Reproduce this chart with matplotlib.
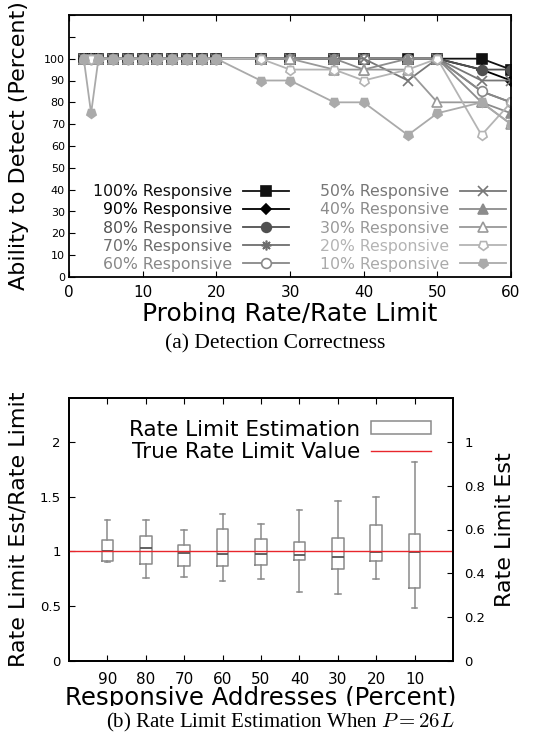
import matplotlib
matplotlib.use("Agg")
import matplotlib.pyplot as plt
from matplotlib.patches import Patch, Rectangle
from matplotlib.lines import Line2D

plt.rcParams["font.family"] = "DejaVu Sans"
plt.rcParams["mathtext.fontset"] = "cm"

# ---- data: detection correctness ----
rate = [2, 3, 4, 6, 8, 10, 12, 14, 16, 18, 20, 26, 30, 36, 40, 46, 50, 56, 60]
base = [100] * 11  # all series at 100 for rate <= 20 (except 10% at rate 3)
r100 = base + [100, 100, 100, 100, 100, 100, 100, 95]
r90 = base + [100, 100, 100, 100, 100, 100, 95, 90]
r80 = base + [100, 100, 100, 100, 100, 100, 95, 95]
r70 = base + [100, 100, 100, 100, 100, 100, 85, 80]
r60 = base + [100, 100, 100, 100, 100, 100, 85, 80]
r50 = base + [100, 100, 100, 100, 90, 100, 90, 90]
r40 = base + [100, 100, 100, 95, 100, 100, 80, 75]
r30 = base + [100, 100, 95, 95, 95, 80, 80, 70]
r20 = base + [100, 95, 95, 90, 95, 100, 65, 80]
r10 = [100, 75] + [100] * 9 + [90, 90, 80, 80, 65, 75, 80, 70]

series = [
    ("100% Responsive", r100, "#111111", "s", True),
    ("90% Responsive", r90, "#000000", "D", True),
    ("80% Responsive", r80, "#505050", "o", True),
    ("70% Responsive", r70, "#6e6e6e", (8, 2, 0), True),
    ("60% Responsive", r60, "#888888", "o", False),
    ("50% Responsive", r50, "#777777", "x", True),
    ("40% Responsive", r40, "#8c8c8c", "^", True),
    ("30% Responsive", r30, "#999999", "^", False),
    ("20% Responsive", r20, "#b4b4b4", (5, 0, 180), False),
    ("10% Responsive", r10, "#aaaaaa", (5, 0, 180), True),
]

# ---- data: rate limit estimation boxes ----
resp_pct = ["90", "80", "70", "60", "50", "40", "30", "20", "10"]
whis_lo = [0.90, 0.76, 0.77, 0.73, 0.745, 0.63, 0.615, 0.745, 0.485]
q1 = [0.915, 0.885, 0.865, 0.87, 0.88, 0.92, 0.835, 0.91, 0.665]
med = [1.005, 1.035, 0.985, 0.98, 0.975, 0.965, 0.95, 0.995, 0.995]
q3 = [1.105, 1.14, 1.055, 1.205, 1.11, 1.09, 1.12, 1.245, 1.155]
whis_hi = [1.29, 1.285, 1.20, 1.345, 1.25, 1.38, 1.46, 1.50, 1.815]
true_ratio = 1.0

fig = plt.figure(figsize=(5.33, 7.36), dpi=100)

# ================= (a) =================
ax = fig.add_axes([69 / 533, 1 - 277 / 736, 442 / 533, 262 / 736])
for label, vals, col, mk, filled in series:
    ms = 5 if mk == "D" else 7
    ax.plot(rate, vals, color=col, lw=1.3, marker=mk, ms=ms,
            mfc=col if filled else "white", mec=col, mew=1.2, label=label)

ax.set_xlim(0, 60)
ax.set_ylim(0, 120)
ax.set_xticks(range(0, 61, 10))
ax.set_yticks(range(0, 121, 10))
ax.set_yticklabels([str(v) if v <= 100 else "" for v in range(0, 121, 10)])
ax.tick_params(axis="x", direction="in", top=True, labelsize=11, length=4, pad=6)
ax.tick_params(axis="y", direction="in", labelsize=8, length=4, pad=3)
for s in ax.spines.values():
    s.set_linewidth(1.3)
ax.set_xlabel("Probing Rate/Rate Limit", fontsize=18, va="baseline")
ax.xaxis.set_label_coords(0.5, -0.168)
ax.set_ylabel("Ability to Detect (Percent)", fontsize=16, va="center")
ax.yaxis.set_label_coords(-0.113, 0.5)

leg = ax.legend(ncol=2, loc="lower right", bbox_to_anchor=(1.013, -0.022),
                frameon=False, markerfirst=False, fontsize=11.3,
                handlelength=2.9, handletextpad=0.7, columnspacing=2.0,
                labelspacing=0.2, borderpad=0.2)
for txt, (_, _, col, _, _) in zip(leg.get_texts(), series):
    txt.set_color(col)

# clip label bottom like the original figure
fig.patches.append(Rectangle((0, 1 - 333 / 736), 1, 10 / 736, transform=fig.transFigure,
                             facecolor="white", edgecolor="none", zorder=10))
fig.text(275 / 533, 1 - 344 / 736, "(a) Detection Correctness", family="Liberation Serif",
         fontsize=15.5, ha="center", va="center", zorder=11)

# ================= (b) =================
bx = fig.add_axes([69 / 533, 1 - 661 / 736, 384 / 533, 263 / 736])
pos = list(range(1, len(resp_pct) + 1))
stats = []
for i in range(len(resp_pct)):
    stats.append({"whislo": whis_lo[i], "q1": q1[i], "med": med[i],
                  "q3": q3[i], "whishi": whis_hi[i], "fliers": []})
bx.bxp(stats, positions=pos, widths=0.3, showfliers=False,
       boxprops=dict(color="#8a8a8a", lw=1.1),
       whiskerprops=dict(color="#8a8a8a", lw=1.1),
       capprops=dict(color="#8a8a8a", lw=1.1),
       medianprops=dict(color="#555555", lw=1.3))
bx.axhline(true_ratio, color="#e8262c", lw=1.0, zorder=3)

bx.set_xlim(0, 10)
bx.set_ylim(0, 2.4)
bx.set_xticks(pos)
bx.set_xticklabels(resp_pct)
bx.set_yticks([0, 0.5, 1, 1.5, 2])
bx.set_yticklabels(["0", "0.5", "1", "1.5", "2"])
bx.tick_params(axis="x", direction="in", top=True, labelsize=11, length=4, pad=8)
bx.tick_params(axis="y", direction="in", labelsize=9.5, length=4, pad=6)
for s in bx.spines.values():
    s.set_linewidth(1.3)
bx.set_xlabel("Responsive Addresses (Percent)", fontsize=17.6, va="baseline")
bx.xaxis.set_label_coords(0.5, -0.167)
bx.set_ylabel("Rate Limit Est/Rate Limit", fontsize=16, va="center")
bx.yaxis.set_label_coords(-0.132, 0.5)

rx = bx.twinx()
rx.set_ylim(0, 1.2)
rx.set_yticks([0, 0.2, 0.4, 0.6, 0.8, 1.0])
rx.set_yticklabels(["0", "0.2", "0.4", "0.6", "0.8", "1"])
rx.tick_params(axis="y", direction="in", labelsize=9.5, length=4, pad=8)
rx.set_ylabel("Rate Limit Est", fontsize=16, va="center")
rx.yaxis.set_label_coords(1.135, 0.5)
for s in rx.spines.values():
    s.set_linewidth(1.3)

handles = [Patch(facecolor="white", edgecolor="#8a8a8a", lw=1.1),
           Line2D([0], [0], color="#e8262c", lw=1.0)]
bx.legend(handles, ["Rate Limit Estimation", "True Rate Limit Value"],
          loc="upper right", frameon=False, markerfirst=False, fontsize=15.5,
          handlelength=2.8, handleheight=0.55, handletextpad=0.5,
          labelspacing=0.1, borderaxespad=0.8, borderpad=0.2)

fig.patches.append(Rectangle((0, 1 - 712 / 736), 1, 6 / 736, transform=fig.transFigure,
                             facecolor="white", edgecolor="none", zorder=10))
fig.text(280 / 533, 1 - 722 / 736, "(b) Rate Limit Estimation When $P = 26L$",
         family="Liberation Serif", fontsize=15, ha="center", va="center", zorder=11)

fig.savefig("out.png", dpi=100)
